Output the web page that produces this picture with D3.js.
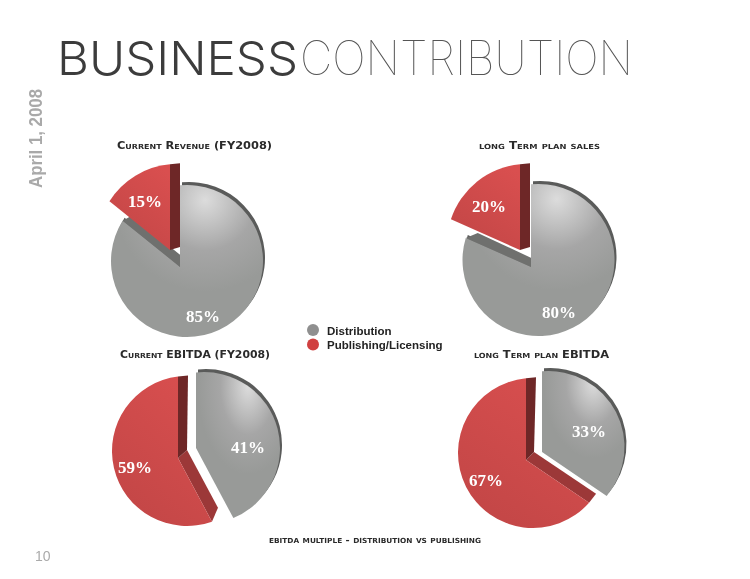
<!DOCTYPE html>
<html>
<head>
<meta charset="utf-8" />
<title>Business Contribution</title>
<script src="https://d3js.org/d3.v7.min.js"></script>
<style>
    html, body { margin: 0; padding: 0; background: #fff; }
    svg { display: block; }
    text { font-family: "Liberation Sans", sans-serif; filter: grayscale(1); }
</style>
</head>
<body>
<div class="canvas"></div>
<script>
    // chart values
    var pieTitles = ["Current Revenue (FY2008)", "long Term plan sales", "Current EBITDA (FY2008)", "long Term plan EBITDA"];
    var categories = ["Distribution", "Publishing/Licensing"];
    var distribution = [85, 80, 41, 33];
    var publishing = [15, 20, 59, 67];
    var footnote = "ebitda multiple - distribution vs publishing";

    var width = 750, height = 579;

    // where each pie sits on the slide (tilt squash, apex, rim circle, extruded sides)
    var layout = [
        {
            squash: 0.9,
            title: {x0: 117, x1: 272, y: 149},
            gray: {apex: [180, 267], c: [187, 261], r: 76, rim: [2, -3], end: {apex: [9, -5], rimPt: [9, -5], fill: "#6f706e"}},
            red: {apex: [170, 250], c: [177, 244], r: 80, end: {apex: [10, -3], rimPt: [10, -1], fill: "#6e2727"}},
            labels: [[203, 322], [145, 207]]
        },
        {
            squash: 0.73,
            title: {x0: 479, x1: 600, y: 149},
            gray: {apex: [531, 267], c: [538.5, 260], r: 76, rim: [2, -3], end: {apex: [9, -5], rimPt: [12, -5], fill: "#6f706e"}},
            red: {apex: [520, 250], c: [527, 244], r: 80, end: {apex: [10, -3], rimPt: [10, -1], fill: "#6e2727"}},
            labels: [[559, 318], [489, 212]]
        },
        {
            squash: 0.84,
            title: {x0: 120, x1: 270, y: 358},
            gray: {apex: [196, 448], c: [204, 448], r: 76, rim: [2, -3]},
            red: {apex: [178, 458], c: [187, 451], r: 75,
                start: {apex: [9, -8], rimPt: [6, -14], fill: "#9c3838"},
                end: {apex: [9, -8], rimPt: [10, -1], fill: "#6e2727"}},
            labels: [[248, 453], [135, 473]]
        },
        {
            squash: 0.81,
            title: {x0: 474, x1: 609, y: 358},
            gray: {apex: [542, 452], c: [548.5, 447], r: 76, rim: [2, -3]},
            red: {apex: [526, 460], c: [533, 453], r: 75,
                start: {apex: [8, -8], rimPt: [7, -9], fill: "#9c3838"},
                end: {apex: [8, -8], rimPt: [10, -1], fill: "#6e2727"}},
            labels: [[589, 437], [486, 486]]
        }
    ];

    var svg = d3.select(".canvas").append("svg")
        .attr("width", width)
        .attr("height", height);

    var defs = svg.append("defs");

    var grayGrad = defs.append("radialGradient")
        .attr("id", "grayTop")
        .attr("cx", 0.62).attr("cy", 0.1).attr("r", 0.6);
    grayGrad.append("stop").attr("offset", 0).attr("stop-color", "#dcdcdc");
    grayGrad.append("stop").attr("offset", 0.55).attr("stop-color", "#a6a6a6");
    grayGrad.append("stop").attr("offset", 1).attr("stop-color", "#989a98");

    var redGrad = defs.append("linearGradient")
        .attr("id", "redTop")
        .attr("x1", 0.8).attr("y1", 0).attr("x2", 0.2).attr("y2", 1);
    redGrad.append("stop").attr("offset", 0).attr("stop-color", "#d94f4f");
    redGrad.append("stop").attr("offset", 1).attr("stop-color", "#c24646");

    // heading
    svg.append("text")
        .attr("x", 57).attr("y", 75)
        .attr("textLength", 241).attr("lengthAdjust", "spacingAndGlyphs")
        .style("font-family", "Inter, sans-serif")
        .style("font-weight", 300)
        .style("font-size", "47px")
        .style("fill", "#3c3c3c")
        .text("BUSINESS");
    svg.append("text")
        .attr("x", 300).attr("y", 75)
        .attr("textLength", 333).attr("lengthAdjust", "spacingAndGlyphs")
        .style("font-family", "Inter, sans-serif")
        .style("font-weight", 100)
        .style("font-size", "47px")
        .style("fill", "#555")
        .text("CONTRIBUTION");

    svg.append("text")
        .attr("transform", "translate(42,188) rotate(-90)")
        .attr("textLength", 99).attr("lengthAdjust", "spacingAndGlyphs")
        .style("font-size", "18px")
        .style("font-weight", 700)
        .style("fill", "#a9a9a9")
        .text("April 1, 2008");

    svg.append("text")
        .attr("x", 35).attr("y", 561)
        .style("font-size", "14px")
        .style("fill", "#aaa")
        .text("10");

    var pie = d3.pie().sort(null).value(function(d) { return d; });
    var line = d3.line();

    // where a ray from the apex at pie angle a meets the rim circle
    function rimPoint(s, a, squash) {
        var dx = Math.sin(a) * squash, dy = -Math.cos(a);
        var fx = s.apex[0] - s.c[0], fy = s.apex[1] - s.c[1];
        var qa = dx * dx + dy * dy, qb = 2 * (fx * dx + fy * dy), qc = fx * fx + fy * fy - s.r * s.r;
        var t = (-qb + Math.sqrt(qb * qb - 4 * qa * qc)) / (2 * qa);
        return [s.apex[0] + t * dx, s.apex[1] + t * dy];
    }

    function slicePath(s, a0, a1, squash) {
        var p0 = rimPoint(s, a0, squash), p1 = rimPoint(s, a1, squash);
        var path = d3.path();
        path.moveTo(s.apex[0], s.apex[1]);
        path.arc(s.c[0], s.c[1], s.r,
            Math.atan2(p0[1] - s.c[1], p0[0] - s.c[0]),
            Math.atan2(p1[1] - s.c[1], p1[0] - s.c[0]), false);
        path.closePath();
        return path.toString();
    }

    function drawFace(g, s, face, a, squash) {
        if (!face) return;
        var p = rimPoint(s, a, squash);
        g.append("path")
            .attr("d", line([
                s.apex,
                [s.apex[0] + face.apex[0], s.apex[1] + face.apex[1]],
                [p[0] + face.rimPt[0], p[1] + face.rimPt[1]],
                p
            ]) + "Z")
            .attr("fill", face.fill);
    }

    function drawSlice(g, s, arc, fill, squash) {
        if (s.rim) {
            g.append("path")
                .attr("d", slicePath(s, arc.startAngle, arc.endAngle, squash))
                .attr("transform", "translate(" + s.rim + ")")
                .attr("fill", "#5a5b5a");
        }
        drawFace(g, s, s.start, arc.startAngle, squash);
        drawFace(g, s, s.end, arc.endAngle, squash);
        g.append("path")
            .attr("d", slicePath(s, arc.startAngle, arc.endAngle, squash))
            .attr("fill", fill);
    }

    pieTitles.forEach(function(title, i) {
        var lay = layout[i];
        var arcs = pie([distribution[i], publishing[i]]);
        var g = svg.append("g");

        drawSlice(g, lay.gray, arcs[0], "url(#grayTop)", lay.squash);
        drawSlice(g, lay.red, arcs[1], "url(#redTop)", lay.squash);

        g.selectAll("text.value")
            .data([distribution[i], publishing[i]])
            .enter().append("text")
            .attr("class", "value")
            .attr("x", function(d, k) { return lay.labels[k][0]; })
            .attr("y", function(d, k) { return lay.labels[k][1]; })
            .attr("text-anchor", "middle")
            .style("font-family", "'Liberation Serif', serif")
            .style("font-weight", 700)
            .style("font-size", "17px")
            .style("fill", "#fff")
            .text(function(d) { return d + "%"; });

        svg.append("text")
            .attr("x", lay.title.x0).attr("y", lay.title.y)
            .attr("textLength", lay.title.x1 - lay.title.x0)
            .attr("lengthAdjust", "spacingAndGlyphs")
            .style("font-family", "'DejaVu Sans', sans-serif")
            .style("font-variant", "small-caps")
            .style("font-weight", 700)
            .style("font-size", "10px")
            .style("fill", "#2a2a2a")
            .text(title);
    });

    // legend
    var legendColor = d3.scaleOrdinal().domain(categories).range(["#8f8f8f", "#d04040"]);
    var legendY = d3.scalePoint().domain(categories).range([330, 344.5]);

    var legend = svg.selectAll("g.legend")
        .data(categories)
        .enter().append("g")
        .attr("class", "legend")
        .attr("transform", function(d) { return "translate(313," + legendY(d) + ")"; });
    legend.append("circle")
        .attr("r", 6)
        .attr("fill", function(d) { return legendColor(d); });
    legend.append("text")
        .attr("x", 14).attr("y", 4.5)
        .style("font-size", "11.5px")
        .style("font-weight", 700)
        .style("fill", "#222")
        .text(function(d) { return d; });

    svg.append("text")
        .attr("x", 269).attr("y", 543)
        .attr("textLength", 212).attr("lengthAdjust", "spacingAndGlyphs")
        .style("font-family", "'DejaVu Sans', sans-serif")
        .style("font-variant", "small-caps")
        .style("font-weight", 700)
        .style("font-size", "9.5px")
        .style("fill", "#2a2a2a")
        .text(footnote);
</script>
</body>
</html>
